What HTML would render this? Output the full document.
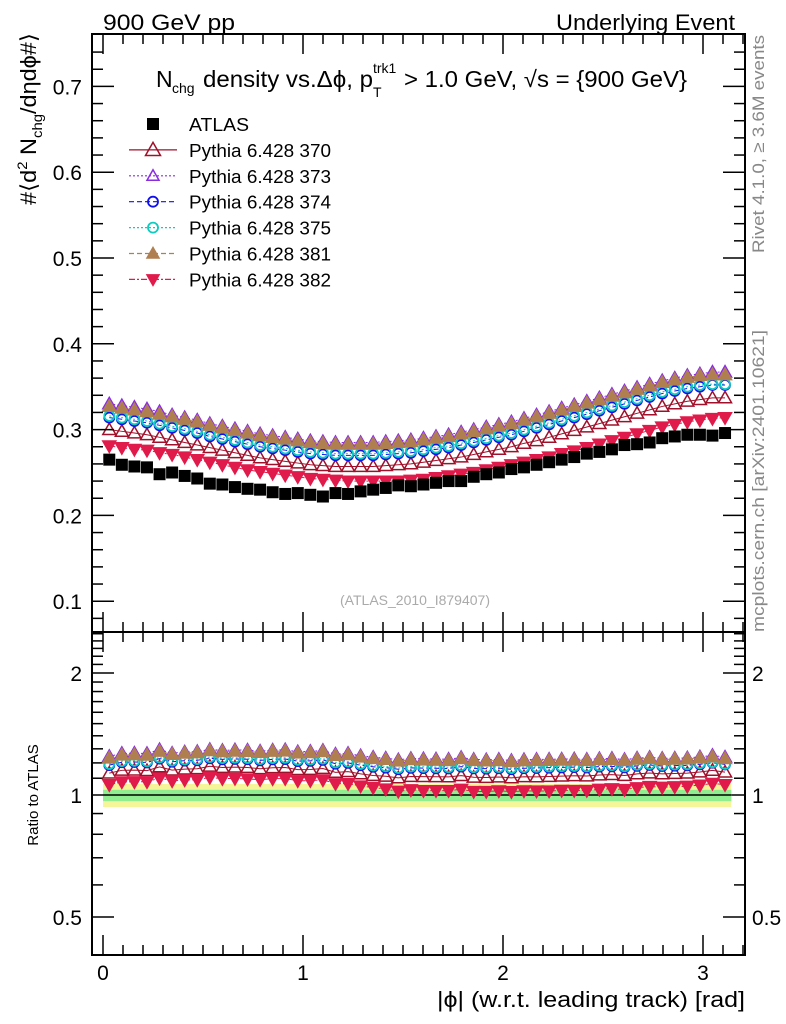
<!DOCTYPE html>
<html><head><meta charset="utf-8"><style>
body{margin:0;background:#fff;}
svg{display:block;font-family:"Liberation Sans",sans-serif;}
</style></head><body>
<svg id="chart" width="786" height="1024" viewBox="0 0 786 1024" xmlns="http://www.w3.org/2000/svg">
<text x="103" y="30" font-size="22" textLength="132" lengthAdjust="spacingAndGlyphs">900 GeV pp</text>
<text x="556" y="30" font-size="22" textLength="179" lengthAdjust="spacingAndGlyphs">Underlying Event</text>
<g>
<text x="156" y="87" font-size="23">N</text>
<text x="172" y="93" font-size="14">chg</text>
<text x="203" y="87" font-size="23" textLength="170" lengthAdjust="spacingAndGlyphs">density vs.Δϕ, p</text>
<text x="373" y="73" font-size="14">trk1</text>
<text x="373" y="97" font-size="14">T</text>
<text x="404" y="87" font-size="23" textLength="283" lengthAdjust="spacingAndGlyphs">&gt; 1.0 GeV, √s = {900 GeV}</text>
</g>
<text transform="translate(36,205) rotate(-90)" font-size="22" textLength="172" lengthAdjust="spacingAndGlyphs">#⟨d<tspan font-size="14" dy="-9">2</tspan><tspan dy="9"> N</tspan><tspan font-size="14" dy="6">chg</tspan><tspan dy="-6">/dηdϕ#⟩</tspan></text>
<text transform="translate(764,253) rotate(-90)" font-size="17" fill="#888" textLength="218" lengthAdjust="spacingAndGlyphs">Rivet 4.1.0, ≥ 3.6M events</text>
<text transform="translate(764,632) rotate(-90)" font-size="17" fill="#888" textLength="302" lengthAdjust="spacingAndGlyphs">mcplots.cern.ch [arXiv:2401.10621]</text>
<text x="415" y="605" font-size="14" fill="#aaa" text-anchor="middle">(ATLAS_2010_I879407)</text>
<text transform="translate(38,795) rotate(-90)" font-size="15" text-anchor="middle">Ratio to ATLAS</text>
<text x="437" y="1007" font-size="22" textLength="308" lengthAdjust="spacingAndGlyphs">|ϕ| (w.r.t. leading track) [rad]</text>
<g id="main"></g>
<g id="ratio"></g>
<g id="legend"></g>
</svg>
<script>
const atlas=[0.265,0.259,0.257,0.256,0.248,0.250,0.246,0.243,0.237,0.236,0.233,0.231,0.230,0.227,0.225,0.226,0.224,0.222,0.226,0.225,0.228,0.230,0.232,0.235,0.234,0.236,0.238,0.240,0.240,0.245,0.248,0.250,0.254,0.256,0.259,0.262,0.265,0.268,0.272,0.274,0.277,0.282,0.283,0.285,0.290,0.292,0.294,0.294,0.293,0.296];
const p370=[0.300,0.298,0.296,0.294,0.291,0.288,0.285,0.282,0.279,0.276,0.273,0.270,0.267,0.265,0.263,0.261,0.259,0.258,0.257,0.257,0.257,0.257,0.258,0.259,0.260,0.262,0.264,0.266,0.268,0.271,0.274,0.277,0.280,0.284,0.287,0.291,0.295,0.299,0.303,0.307,0.311,0.315,0.319,0.323,0.327,0.330,0.333,0.335,0.337,0.337];
const p373=[0.330,0.328,0.326,0.324,0.321,0.317,0.314,0.311,0.307,0.304,0.301,0.298,0.295,0.293,0.291,0.289,0.287,0.286,0.285,0.285,0.285,0.285,0.286,0.287,0.288,0.290,0.292,0.294,0.297,0.300,0.303,0.306,0.309,0.313,0.317,0.321,0.325,0.329,0.333,0.337,0.341,0.345,0.349,0.353,0.357,0.360,0.363,0.365,0.367,0.367];
const p374=[0.314,0.312,0.310,0.308,0.305,0.302,0.299,0.296,0.292,0.289,0.286,0.283,0.280,0.278,0.276,0.274,0.272,0.271,0.270,0.270,0.270,0.270,0.271,0.272,0.273,0.275,0.277,0.279,0.282,0.285,0.288,0.291,0.294,0.298,0.302,0.306,0.310,0.314,0.318,0.322,0.326,0.330,0.334,0.338,0.342,0.345,0.348,0.350,0.352,0.352];
const p375=[0.316,0.314,0.312,0.310,0.307,0.304,0.301,0.298,0.294,0.291,0.288,0.285,0.282,0.280,0.278,0.276,0.274,0.273,0.272,0.272,0.272,0.272,0.273,0.274,0.275,0.277,0.279,0.281,0.284,0.287,0.290,0.293,0.296,0.300,0.304,0.308,0.312,0.316,0.320,0.324,0.328,0.332,0.336,0.340,0.344,0.347,0.350,0.352,0.353,0.353];
const p381=[0.327,0.325,0.323,0.321,0.318,0.315,0.312,0.309,0.305,0.302,0.299,0.296,0.293,0.291,0.289,0.287,0.285,0.284,0.283,0.283,0.283,0.283,0.284,0.285,0.286,0.288,0.290,0.292,0.295,0.298,0.301,0.304,0.307,0.311,0.315,0.319,0.323,0.327,0.331,0.335,0.339,0.343,0.347,0.351,0.355,0.358,0.361,0.363,0.364,0.364];
const p382=[0.281,0.279,0.277,0.276,0.273,0.271,0.268,0.265,0.262,0.259,0.256,0.253,0.251,0.249,0.247,0.245,0.243,0.242,0.241,0.240,0.240,0.240,0.240,0.240,0.241,0.242,0.244,0.246,0.248,0.250,0.253,0.256,0.259,0.262,0.265,0.268,0.272,0.275,0.279,0.283,0.287,0.291,0.295,0.299,0.303,0.306,0.309,0.311,0.313,0.314];
const mainTicks=[0.1,0.2,0.3,0.4,0.5,0.6,0.7];
const ratioTicks=[0.5,1,2];
const xTicks=[0,1,2,3];
const seriesNames=["Pythia 6.428 370","Pythia 6.428 373","Pythia 6.428 374","Pythia 6.428 375","Pythia 6.428 381","Pythia 6.428 382"];

const NS="http://www.w3.org/2000/svg";
const L=92,R=745,T=34,MB=632,RB=955;
const X0=-0.055,X1=3.21;
const nb=atlas.length, bw=Math.PI/nb;
function sx(v){return L+(v-X0)/(X1-X0)*(R-L);}
function sy(v){return 429.6-(v-0.3)*858;}
function ry(v){return 795-Math.log2(v)*122;}
function mk(tag,attrs,parent){const e=document.createElementNS(NS,tag);for(const k in attrs)e.setAttribute(k,attrs[k]);parent.appendChild(e);return e;}
const main=document.getElementById('main'),ratio=document.getElementById('ratio'),leg=document.getElementById('legend');

const styles=[
 {d:p370,c:"#a0102a",m:"tri",fill:"none",dash:""},
 {d:p373,c:"#8a2be2",m:"tri",fill:"none",dash:"2,2"},
 {d:p374,c:"#1010ee",m:"circ",fill:"none",dash:"5,3"},
 {d:p375,c:"#10ccc0",m:"circ",fill:"none",dash:"2,2"},
 {d:p381,c:"#b07f50",m:"tri",fill:"#b07f50",dash:"5,3"},
 {d:p382,c:"#e01a4a",m:"itri",fill:"#e01a4a",dash:"6,2,2,2"}
];
function marker(g,kind,x,y,c,fill,s){
 s=s||6.5;
 let e;
 if(kind==="sq") e=mk('rect',{x:x-6,y:y-6,width:12,height:12,fill:"#000"},g);
 else if(kind==="tri") e=mk('polygon',{points:`${x},${y-s} ${x-s},${y+s*0.75} ${x+s},${y+s*0.75}`,fill:fill,stroke:c,"stroke-width":1.5},g);
 else if(kind==="itri") e=mk('polygon',{points:`${x},${y+s} ${x-s},${y-s*0.75} ${x+s},${y-s*0.75}`,fill:fill,stroke:c,"stroke-width":1.5},g);
 else e=mk('circle',{cx:x,cy:y,r:5,fill:"none",stroke:c,"stroke-width":1.8},g);
 return e;
}
let band=mk('rect',{x:sx(0),y:ry(1.065),width:sx(Math.PI)-sx(0),height:ry(0.934)-ry(1.065),fill:"#f5f59a"},ratio);


band=mk('rect',{x:sx(0),y:ry(1.03),width:sx(Math.PI)-sx(0),height:ry(0.966)-ry(1.03),fill:"#90ee90"},ratio);


let one=mk('line',{x1:sx(0),x2:sx(Math.PI),y1:ry(1),y2:ry(1),stroke:"#000","stroke-width":1.5},ratio);



styles.forEach((st,si)=>{
 const g=mk('g',{},main);
 
 
 const gr=mk('g',{},ratio);
 
 
 let pts=[],rpts=[];
 st.d.forEach((v,i)=>{const x=sx((i+0.5)*bw);pts.push(`${x},${sy(v)}`);rpts.push(`${x},${ry(v/atlas[i])}`);});
 const pl=mk('polyline',{points:pts.join(' '),fill:"none",stroke:st.c,"stroke-width":1,"stroke-dasharray":st.dash},g);
 
 
 const rl=mk('polyline',{points:rpts.join(' '),fill:"none",stroke:st.c,"stroke-width":1,"stroke-dasharray":st.dash},gr);
 
 
 st.d.forEach((v,i)=>{
  const x=sx((i+0.5)*bw);
  const p=marker(g,st.m,x,sy(v),st.c,st.fill);
  
  
  const q=marker(gr,st.m,x,ry(v/atlas[i]),st.c,st.fill);
  
  
 });
});
const ga=mk('g',{},main);


atlas.forEach((v,i)=>{
 const p=marker(ga,"sq",sx((i+0.5)*bw),sy(v));
 
 
});

const ax=mk('g',{stroke:"#000","stroke-width":2,fill:"none"},main);


mk('rect',{x:L,y:T,width:R-L,height:MB-T},ax);
mk('rect',{x:L,y:MB,width:R-L,height:RB-MB},ax);
const tk=mk('g',{stroke:"#000","stroke-width":1.5},main);
for(let k=4;k<=37;k++){const v=k*0.02;const y=sy(v);if(y<T||y>MB)continue;const maj=k%5===0;const len=maj?22:11;
 mk('line',{x1:L,x2:L+len,y1:y,y2:y},tk);mk('line',{x1:R,x2:R-len,y1:y,y2:y},tk);}
mainTicks.forEach(v=>{const t=mk('text',{x:L-10,y:sy(v)+8,"font-size":21,"text-anchor":"end"},main);t.textContent=v.toFixed(1);
 });
for(let k=0;k<=32;k++){const v=k*0.1;const x=sx(v);const maj=k%10===0;const len=maj?20:10;
 mk('line',{x1:x,x2:x,y1:T,y2:T+len},tk);mk('line',{x1:x,x2:x,y1:MB,y2:MB-len},tk);
 mk('line',{x1:x,x2:x,y1:MB,y2:MB+len},tk);mk('line',{x1:x,x2:x,y1:RB,y2:RB-len},tk);}
xTicks.forEach(v=>{const t=mk('text',{x:sx(v),y:980,"font-size":21,"text-anchor":"middle"},main);t.textContent=v;
 });
for(let k=4;k<=25;k++){const v=k/10;const y=ry(v);if(y<MB||y>RB)continue;const maj=(k===5||k===10||k===20);const len=maj?22:11;
 mk('line',{x1:L,x2:L+len,y1:y,y2:y},tk);mk('line',{x1:R,x2:R-len,y1:y,y2:y},tk);}
ratioTicks.forEach(v=>{
 let t=mk('text',{x:L-10,y:ry(v)+8,"font-size":21,"text-anchor":"end"},ratio);t.textContent=v;
 
 t=mk('text',{x:752,y:ry(v)+8,"font-size":21},ratio);t.textContent=v;
 });

const ly0=124,ldy=25.9;
let e=marker(leg,"sq",153,ly0);


let lt=mk('text',{x:189,y:ly0+7,"font-size":18,textLength:60,lengthAdjust:"spacingAndGlyphs"},leg);lt.textContent="ATLAS";


styles.forEach((st,si)=>{
 const y=ly0+ldy*(si+1);
 const ln=mk('line',{x1:129,x2:177,y1:y,y2:y,stroke:st.c,"stroke-width":1.2,"stroke-dasharray":st.dash},leg);
 
 
 const m=marker(leg,st.m,153,y,st.c,st.fill,st.m==="tri"&&si===0?7.5:6);
 
 
 const t=mk('text',{x:189,y:y+7,"font-size":18,textLength:142,lengthAdjust:"spacingAndGlyphs"},leg);t.textContent=seriesNames[si];
 
 
});
</script>
</body></html>
